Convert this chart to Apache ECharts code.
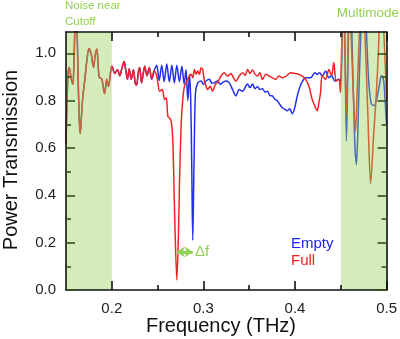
<!DOCTYPE html>
<html><head><meta charset="utf-8">
<script src="https://cdn.jsdelivr.net/npm/echarts@6/dist/echarts.min.js"></script>
<style>html,body{margin:0;padding:0;background:#fff}#c{width:400px;height:339px}</style>
</head><body><div id="c"></div>
<script>
// ---- data (frequency THz, power transmission) ----
const sharedStart = [
 [0.1500,0.62],[0.1510,0.78],[0.1522,0.91],[0.1535,0.94],[0.1550,0.91],[0.1565,0.88],[0.1576,0.87],
 [0.1588,0.98],[0.1598,1.12],[0.1608,1.22],[0.1620,1.12],[0.1632,0.90],[0.1645,0.72],[0.1655,0.66],
 [0.1668,0.73],[0.1682,0.81],[0.1703,0.88],[0.1728,0.97],[0.1750,1.02],[0.1775,0.997],[0.1800,0.94],
 [0.1818,0.99],[0.1837,1.018],[0.1862,0.90],[0.1891,0.89],[0.1921,0.83],[0.1946,0.89],[0.1964,0.86],
 [0.1992,0.935],[0.2000,0.945],[0.2033,0.915],[0.2062,0.93],[0.2087,0.905],[0.2112,0.94],[0.2134,0.965],
 [0.2152,0.93],[0.2171,0.89],[0.2190,0.935],[0.2212,0.89],[0.2236,0.93],[0.2255,0.875],[0.2270,0.865],
 [0.2290,0.92],[0.2304,0.94],[0.2325,0.875],[0.2345,0.92],[0.2360,0.945],[0.2384,0.905],[0.2410,0.94],
 [0.2435,0.89],[0.2462,0.925]
];
const emptyRest = [
 [0.2490,0.95],[0.2518,0.885],[0.2545,0.95],[0.2572,0.88],[0.2600,0.955],[0.2628,0.88],[0.2656,0.95],
 [0.2683,0.875],[0.2710,0.95],[0.2738,0.88],[0.2765,0.945],[0.2790,0.87],[0.2810,0.93],[0.2830,0.80],
 [0.2848,0.91],[0.2862,0.80],[0.2872,0.55],[0.2884,0.21],[0.2897,0.52],[0.2913,0.83],[0.2938,0.875],
 [0.2975,0.883],[0.3000,0.869],[0.3029,0.883],[0.3065,0.89],[0.3094,0.873],[0.3120,0.876],[0.3155,0.883],
 [0.3185,0.869],[0.3210,0.876],[0.3247,0.883],[0.3283,0.875],[0.3318,0.847],[0.3355,0.82],[0.3391,0.847],
 [0.3427,0.84],[0.3482,0.87],[0.3508,0.855],[0.3536,0.87],[0.3565,0.85],[0.3590,0.86],[0.3616,0.847],
 [0.3645,0.85],[0.3674,0.836],[0.3699,0.84],[0.3725,0.822],[0.3753,0.82],[0.3783,0.805],[0.3808,0.80],
 [0.3834,0.784],[0.3862,0.77],[0.3891,0.763],[0.3916,0.757],[0.3942,0.766],[0.3971,0.745],[0.3997,0.77],
 [0.4025,0.82],[0.4051,0.855],[0.4079,0.88],[0.4116,0.897],[0.4171,0.897],[0.4217,0.918],[0.4242,0.91],
 [0.4268,0.918],[0.4297,0.904],[0.4334,0.925],[0.4370,0.897],[0.4400,0.905],[0.4435,0.883],[0.4478,0.89],
 [0.4500,0.88],[0.4515,1.05],[0.4530,1.3],[0.4545,1.05],[0.4562,0.63],[0.4580,1.0],[0.4598,1.3],
 [0.4620,1.1],[0.4650,0.65],[0.4671,0.53],[0.4695,0.8],[0.4720,1.1],[0.4750,1.3],[0.4779,1.1],
 [0.4805,0.88],[0.4834,0.785],[0.4862,0.78],[0.4888,0.80],[0.4924,0.87],[0.4942,0.905],[0.4958,0.90],
 [0.4971,0.875],[0.4990,0.76],[0.5000,0.70]
];
const fullRest = [
 [0.2490,0.905],[0.2503,0.875],[0.2522,0.84],[0.2551,0.847],[0.2576,0.805],[0.2595,0.812],[0.2612,0.734],
 [0.2630,0.727],[0.2649,0.713],[0.2666,0.635],[0.2685,0.34],[0.2710,0.042],[0.2728,0.24],[0.2739,0.45],
 [0.2758,0.706],[0.2775,0.805],[0.2793,0.861],[0.2812,0.876],[0.2829,0.89],[0.2848,0.904],[0.2866,0.911],
 [0.2884,0.897],[0.2902,0.932],[0.2921,0.911],[0.2938,0.925],[0.2957,0.911],[0.2975,0.939],[0.2992,0.932],
 [0.3011,0.883],[0.3029,0.861],[0.3047,0.847],[0.3073,0.861],[0.3101,0.84],[0.3130,0.869],[0.3155,0.876],
 [0.3192,0.904],[0.3228,0.918],[0.3264,0.904],[0.3301,0.915],[0.3318,0.904],[0.3355,0.883],[0.3391,0.904],
 [0.3427,0.918],[0.3457,0.907],[0.3482,0.932],[0.3508,0.915],[0.3536,0.929],[0.3565,0.911],[0.3590,0.904],
 [0.3616,0.918],[0.3645,0.89],[0.3682,0.911],[0.3717,0.904],[0.3753,0.897],[0.3790,0.89],[0.3826,0.904],
 [0.3862,0.897],[0.3905,0.904],[0.3953,0.918],[0.4000,0.915],[0.4043,0.911],[0.4079,0.904],[0.4116,0.89],
 [0.4152,0.861],[0.4188,0.805],[0.4217,0.777],[0.4242,0.757],[0.4261,0.791],[0.4279,0.833],[0.4297,0.904],
 [0.4334,0.89],[0.4370,0.932],[0.4399,0.904],[0.4424,0.961],[0.4449,0.883],[0.4478,0.89],[0.4497,0.835],
 [0.4505,0.95],[0.4515,1.1],[0.4530,1.25],[0.4545,1.0],[0.4562,0.736],[0.4575,0.95],[0.4590,1.2],
 [0.4610,1.1],[0.4640,0.8],[0.4660,0.67],[0.4680,0.85],[0.4705,1.1],[0.4735,1.3],[0.4762,1.1],
 [0.4795,0.75],[0.4826,0.45],[0.4858,0.65],[0.4888,0.83],[0.4910,1.0],[0.4935,1.2],[0.4960,1.15],
 [0.4980,1.0],[0.5000,0.80]
];
const emptyData = sharedStart.concat(emptyRest);
const fullData = sharedStart.concat(fullRest);
const shadedRanges = [[0.15, 0.2], [0.45, 0.5]];
const deltaF = [0.2710, 0.2884];   // dip frequencies (full, empty)
const deltaFLevel = 0.161;
const xMajorTicks = [0.2, 0.3, 0.4, 0.5];
const xMinorTicks = [0.25, 0.35, 0.45];
const yMajorTicks = [0, 0.2, 0.4, 0.6, 0.8, 1.0];
const yMinorTicks = [0.1, 0.3, 0.5, 0.7, 0.9];
const X_MIN = 0.15, X_MAX = 0.5, Y_MIN = 0, Y_MAX = 1.09;

const green = '#92d050';
const font = 'Liberation Sans, Arial, sans-serif';
function xAx(pos, ticks, len, line, labels, tickColor){
  return {type:'value', min:X_MIN, max:X_MAX, position:pos, z:12,
    axisLine:{show:line, onZero:false, lineStyle:{color:'#111', width:1.6}},
    axisTick:{show:true, inside:true, length:len, customValues:ticks, lineStyle:{color:tickColor||'#111', width:1.6}},
    axisLabel:labels?{show:true, customValues:labels, formatter:v=>(+v).toFixed(1), fontSize:15, margin:11, color:'#222', fontFamily:font}:{show:false},
    splitLine:{show:false}};
}
function yAx(pos, ticks, len, line, labels){
  return {type:'value', min:Y_MIN, max:Y_MAX, position:pos, z:12,
    axisLine:{show:line, onZero:false, lineStyle:{color:'#111', width:1.6}},
    axisTick:{show:true, inside:true, length:len, customValues:ticks, lineStyle:{color:'#34521c', width:1.6}},
    axisLabel:labels?{show:true, customValues:labels, formatter:v=>(+v).toFixed(1), fontSize:15, margin:10, color:'#222', fontFamily:font}:{show:false},
    splitLine:{show:false}};
}
const chart = echarts.init(document.getElementById('c'), null, {renderer:'canvas'});
chart.setOption({
  animation:false,
  grid:{left:66, right:12, top:32, bottom:49},
  xAxis:[
    xAx('bottom', xMajorTicks, 9, true, xMajorTicks),
    xAx('bottom', xMinorTicks, 5, false, null),
    xAx('top', xMajorTicks, 9, true, null),
    xAx('top', xMinorTicks, 5, false, null)
  ],
  yAxis:[
    yAx('left', yMajorTicks, 9, true, yMajorTicks),
    yAx('left', yMinorTicks, 5, false, null),
    yAx('right', yMajorTicks, 9, true, null),
    yAx('right', yMinorTicks, 5, false, null)
  ],
  series:[
    {name:'Empty', type:'line', data:emptyData, showSymbol:false, smooth:0.3, z:2,
     lineStyle:{color:'#2230ee', width:1.5}},
    {name:'Full', type:'line', data:fullData, showSymbol:false, smooth:0.3, z:3,
     lineStyle:{color:'#ee2424', width:1.5}},
    {name:'shade', type:'line', data:[], z:10, silent:true,
     markArea:{silent:true, z:10, itemStyle:{color:'rgba(146,208,80,0.4)'},
       data:shadedRanges.map(r=>[{xAxis:r[0], yAxis:Y_MIN},{xAxis:r[1], yAxis:Y_MAX}])}},
    {name:'df', type:'line', data:[], z:11, silent:true,
     markLine:{silent:true, z:11, symbol:['arrow','arrow'], symbolSize:[8,8], label:{show:false},
       lineStyle:{color:green, width:3, type:'solid'},
       data:[[{coord:[deltaF[0], deltaFLevel]},{coord:[deltaF[1], deltaFLevel]}]]}}
  ],
  graphic:[
    {type:'text', left:65, top:0, style:{text:'Noise near', fill:green, font:'11.5px '+font}},
    {type:'text', left:65, top:16, style:{text:'Cutoff', fill:green, font:'11.5px '+font}},
    {type:'text', right:1, top:6, style:{text:'Multimode', fill:green, font:'13.5px '+font}},
    {type:'text', x:291, y:244, style:{text:'Empty', fill:'#1f24ee', font:'15px '+font, textVerticalAlign:'middle'}},
    {type:'text', x:291, y:261, style:{text:'Full', fill:'#ee2020', font:'15px '+font, textVerticalAlign:'middle'}},
    {type:'text', x:195, y:252, style:{text:'\u0394f', fill:green, font:'15px '+font, textVerticalAlign:'middle'}},
    {type:'text', x:11, y:160, rotation:Math.PI/2, style:{text:'Power Transmission', fill:'#111', font:'20px '+font, textAlign:'center', textVerticalAlign:'middle'}},
    {type:'text', x:221, y:326, style:{text:'Frequency (THz)', fill:'#111', font:'20px '+font, textAlign:'center', textVerticalAlign:'middle'}}
  ]
});
</script></body></html>
